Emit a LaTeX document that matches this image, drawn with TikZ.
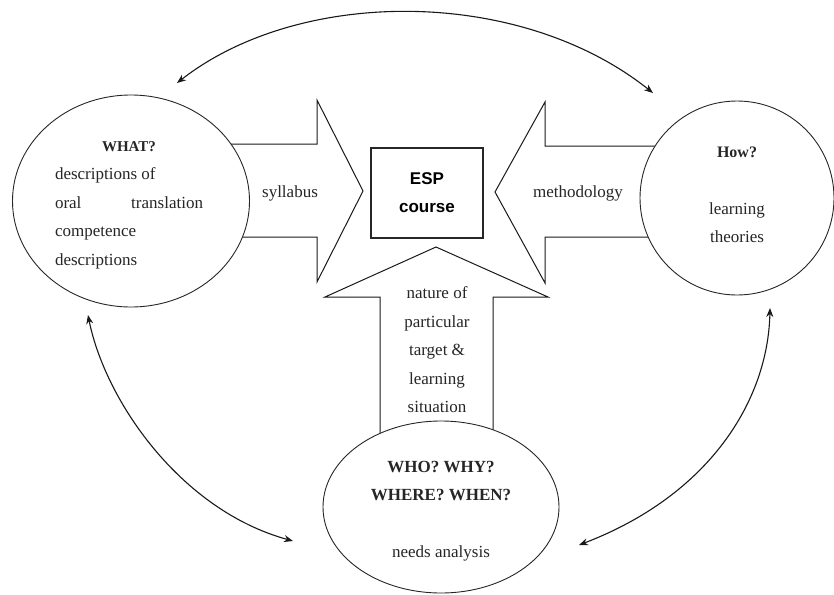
\documentclass[tikz,border=0pt]{standalone}
\usepackage{fontspec}
\setmainfont{Liberation Serif}
\newfontfamily\espfont{Liberation Sans}
\usetikzlibrary{shapes.geometric,arrows.meta}
\tikzset{
  bigarrow/.style={draw=black!90, line width=1pt, fill=white, line join=miter},
  bubble/.style={ellipse, draw=black!85, line width=0.9pt, fill=white, inner sep=0pt},
  txt/.style={font=\fontsize{17}{28.5}\selectfont, text=black!85, align=center, inner sep=0pt},
  link/.style={{Stealth[length=9pt,width=7pt]}-{Stealth[length=9pt,width=7pt]}, line width=1.1pt, black!90},
}
\begin{document}
\begin{tikzpicture}[x=1pt,y=-1pt]
\useasboundingbox (0,0) rectangle (834,594);
% big block arrows
\draw[bigarrow] (200,144) -- (317,144) -- (317,100) -- (363,191) -- (317,282) -- (317,237) -- (200,237) -- cycle;
\draw[bigarrow] (690,146) -- (545,146) -- (545,102) -- (495,192) -- (545,283) -- (545,237) -- (690,237) -- cycle;
\draw[bigarrow] (380,470) -- (380,297) -- (325,297) -- (436,247) -- (548,297) -- (493,297) -- (493,470) -- cycle;
% circles
\node[bubble, minimum width=237pt, minimum height=212pt] (what) at (131,201) {};
\node[bubble, minimum width=194pt, minimum height=194pt] (how) at (737,198) {};
\node[bubble, minimum width=236pt, minimum height=172pt] (who) at (441,507) {};
% ESP box
\node[draw=black!85, line width=1.3pt, minimum width=112pt, minimum height=90pt, inner sep=0pt,
      font=\espfont\bfseries\fontsize{17}{28}\selectfont, align=center] (esp) at (427,193) {ESP\\course};
% texts
\node[txt, align=left] (whattxt) at (129,205) {\makebox[148pt]{\bfseries\fontsize{15}{28.5}\selectfont WHAT?}\\descriptions of\\\makebox[148pt]{oral\hfill translation}\\competence\\descriptions};
\node[txt] (howtxt) at (737,195) {\bfseries\fontsize{16}{28.5}\selectfont How?\\[28.5pt]learning\\theories};
\node[txt] (whotxt) at (441,511) {\bfseries WHO? WHY?\\\bfseries WHERE? WHEN?\\[28pt]needs analysis};
\node[txt] (syl) at (290,193) {syllabus};
\node[txt] (meth) at (578,193) {methodology};
\node[txt] (nat) at (437,350) {nature of\\particular\\target \&\\learning\\situation};
% connectors
\coordinate (t1) at (177,83);
\coordinate (t2) at (653,93);
\coordinate (l1) at (88,315);
\coordinate (l2) at (293,541);
\coordinate (r1) at (770,308);
\coordinate (r2) at (579,545);
\draw[link] (t1) .. controls (300,-13) and (520,-13) .. (t2);
\draw[link] (l1) .. controls (105,400) and (180,510) .. (l2);
\draw[link] (r1) .. controls (768,400) and (710,495) .. (r2);
\end{tikzpicture}
\end{document}
